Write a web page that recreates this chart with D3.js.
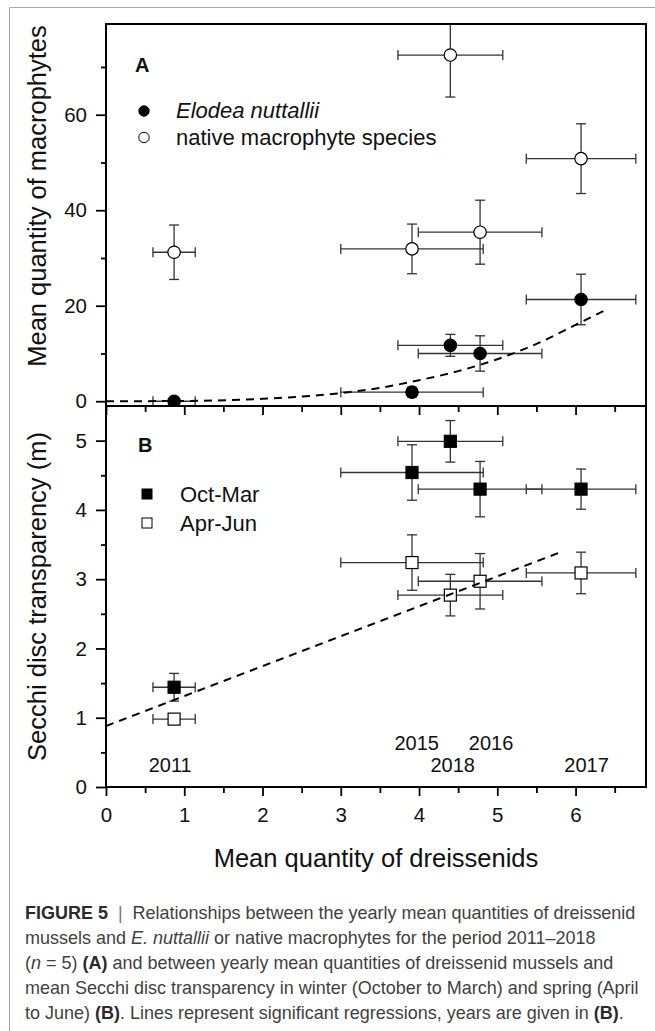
<!DOCTYPE html>
<html><head><meta charset="utf-8">
<script src="https://cdn.jsdelivr.net/npm/d3@7"></script>
<style>
html,body{margin:0;padding:0;background:#fff;}
svg{display:block;}
text{font-family:"Liberation Sans",Arial,sans-serif;}
</style></head>
<body>
<svg id="fig" width="655" height="1031"></svg>
<script>
// ---------------- data ----------------
const years = ["2011", "2015", "2016", "2017", "2018"];
const dreissenidMean = [0.87, 3.91, 4.78, 6.07, 4.40];
const dreissenidErr  = [0.27, 0.91, 0.79, 0.70, 0.67];

const elodeaMean = [0.0, 1.9, 10.0, 21.3, 11.7];
const elodeaErr  = [0.3, 1.0, 3.7, 5.3, 2.3];
const nativeMean = [31.2, 31.9, 35.4, 50.8, 72.5];
const nativeErr  = [5.7, 5.2, 6.7, 7.3, 8.8];

const secchiWinter    = [1.44, 4.54, 4.30, 4.30, 4.99];
const secchiWinterErr = [0.20, 0.40, 0.40, 0.29, 0.30];
const secchiSpring    = [0.98, 3.24, 2.97, 3.09, 2.77];
const secchiSpringErr = [0.05, 0.40, 0.40, 0.30, 0.30];

// regression lines, points
const elodeaFitX = [0, 1, 2, 3, 3.5, 4, 4.5, 5, 5.5, 6, 6.37];
const elodeaFitY = [0, 0.05, 0.5, 1.7, 2.8, 4.4, 6.3, 8.8, 12.0, 16.0, 19.0];
const secchiFitX = [0, 5.81];
const secchiFitY = [0.88, 3.39];

// year annotations (data coordinates of panel B)
const yearLabels = ["2011", "2015", "2016", "2018", "2017"];
const yearLabelX = [0.82, 3.97, 4.92, 4.43, 6.14];
const yearLabelY = [0.22, 0.54, 0.54, 0.21, 0.21];

// ticks
const xTicks = [0, 1, 2, 3, 4, 5, 6];
const xMinor = [0.5, 1.5, 2.5, 3.5, 4.5, 5.5, 6.5];
const yTicksA = [0, 20, 40, 60];
const yMinorA = [10, 30, 50, 70];
const yTicksB = [0, 1, 2, 3, 4, 5];
const yMinorB = [0.5, 1.5, 2.5, 3.5, 4.5];

const legendA = ["Elodea nuttallii", "native macrophyte species"];
const legendB = ["Oct-Mar", "Apr-Jun"];
const xTitle = "Mean quantity of dreissenids";
const yTitleA = "Mean quantity of macrophytes";
const yTitleB = "Secchi disc transparency (m)";

// ---------------- layout ----------------
const svg = d3.select("#fig");
const L = 106, R = 646, TA = 24, BA = 406, BB = 787;
const x  = d3.scaleLinear().domain([0, 6.9]).range([L, R]);
const yA = d3.scaleLinear().domain([-1, 79]).range([BA, TA]);
const yB = d3.scaleLinear().domain([0, 5.5]).range([BB, BA]);

svg.append("rect").attr("width", 655).attr("height", 1031).attr("fill", "#fff");
// outer figure border
svg.append("path").attr("d", "M9.5,1031V7.5H655").attr("fill", "none")
  .attr("stroke", "#a8a8a8").attr("stroke-width", 1);

const defs = svg.append("defs");
defs.append("clipPath").attr("id", "clipA").append("rect")
  .attr("x", L).attr("y", TA).attr("width", R - L).attr("height", BA - TA);
defs.append("clipPath").attr("id", "clipB").append("rect")
  .attr("x", L).attr("y", BA).attr("width", R - L).attr("height", BB - BA);

// ---------------- axes ----------------
function styleAxis(g, fs) {
  g.select(".domain").remove();
  g.selectAll(".tick line").attr("stroke", "#000").attr("stroke-width", 1.8);
  g.selectAll(".tick text").attr("fill", "#111").style("font-size", fs + "px")
    .style("font-family", '"Liberation Sans",Arial,sans-serif');
}
// panel A y axis
svg.append("g").attr("transform", `translate(${L},0)`)
  .call(d3.axisLeft(yA).tickValues(yTicksA).tickSize(10).tickPadding(9).tickFormat(d3.format("d")))
  .call(g => styleAxis(g, 20.5));
svg.append("g").attr("transform", `translate(${L},0)`)
  .call(d3.axisLeft(yA).tickValues(yMinorA).tickSize(5).tickFormat(""))
  .call(g => styleAxis(g, 20));
// panel B y axis
svg.append("g").attr("transform", `translate(${L},0)`)
  .call(d3.axisLeft(yB).tickValues(yTicksB).tickSize(10).tickPadding(9).tickFormat(d3.format("d")))
  .call(g => styleAxis(g, 20.5));
svg.append("g").attr("transform", `translate(${L},0)`)
  .call(d3.axisLeft(yB).tickValues(yMinorB).tickSize(5).tickFormat(""))
  .call(g => styleAxis(g, 20));
// x axis under panel A (no labels)
svg.append("g").attr("transform", `translate(0,${BA})`)
  .call(d3.axisBottom(x).tickValues(xTicks).tickSize(9).tickFormat(""))
  .call(g => styleAxis(g, 20));
svg.append("g").attr("transform", `translate(0,${BA})`)
  .call(d3.axisBottom(x).tickValues(xMinor).tickSize(6).tickFormat(""))
  .call(g => styleAxis(g, 20));
// x axis under panel B
svg.append("g").attr("transform", `translate(0,${BB})`)
  .call(d3.axisBottom(x).tickValues(xTicks).tickSize(9).tickPadding(11).tickFormat(d3.format("d")))
  .call(g => styleAxis(g, 20.5));
svg.append("g").attr("transform", `translate(0,${BB})`)
  .call(d3.axisBottom(x).tickValues(xMinor).tickSize(6).tickFormat(""))
  .call(g => styleAxis(g, 20));

// axis titles
svg.append("text").attr("x", (L + R) / 2).attr("y", 867).attr("text-anchor", "middle")
  .style("font-size", "25.5px").attr("fill", "#111").text(xTitle);
svg.append("text").attr("transform", "translate(46,196) rotate(-90)").attr("text-anchor", "middle")
  .style("font-size", "25.5px").attr("fill", "#111").text(yTitleA);
svg.append("text").attr("transform", `translate(46,${(BA + BB) / 2}) rotate(-90)`).attr("text-anchor", "middle")
  .style("font-size", "25.5px").attr("fill", "#111").text(yTitleB);

// ---------------- marks ----------------
const errColor = "#333";
function errorBars(g, xm, xe, ym, ye, y) {
  const idx = d3.range(xm.length);
  const cap = 5;
  g.selectAll(null).data(idx).join("line")
    .attr("x1", i => x(xm[i] - xe[i])).attr("x2", i => x(xm[i] + xe[i]))
    .attr("y1", i => y(ym[i])).attr("y2", i => y(ym[i]));
  g.selectAll(null).data(idx.flatMap(i => [[i, -1], [i, 1]])).join("line")
    .attr("x1", d => x(xm[d[0]] + d[1] * xe[d[0]])).attr("x2", d => x(xm[d[0]] + d[1] * xe[d[0]]))
    .attr("y1", d => y(ym[d[0]]) - cap).attr("y2", d => y(ym[d[0]]) + cap);
  g.selectAll(null).data(idx).join("line")
    .attr("x1", i => x(xm[i])).attr("x2", i => x(xm[i]))
    .attr("y1", i => y(ym[i] - ye[i])).attr("y2", i => y(ym[i] + ye[i]));
  g.selectAll(null).data(idx.flatMap(i => [[i, -1], [i, 1]])).join("line")
    .attr("x1", d => x(xm[d[0]]) - cap).attr("x2", d => x(xm[d[0]]) + cap)
    .attr("y1", d => y(ym[d[0]] + d[1] * ye[d[0]])).attr("y2", d => y(ym[d[0]] + d[1] * ye[d[0]]));
  g.attr("stroke", errColor).attr("stroke-width", 1.3);
}

// Panel A
const gA = svg.append("g").attr("clip-path", "url(#clipA)");
errorBars(gA.append("g"), dreissenidMean, dreissenidErr, nativeMean, nativeErr, yA);
errorBars(gA.append("g"), dreissenidMean, dreissenidErr, elodeaMean, elodeaErr, yA);
gA.append("g").selectAll("circle").data(d3.range(years.length)).join("circle")
  .attr("cx", i => x(dreissenidMean[i])).attr("cy", i => yA(nativeMean[i])).attr("r", 6.2)
  .attr("fill", "#fff").attr("stroke", "#000").attr("stroke-width", 1.2);
gA.append("g").selectAll("circle").data(d3.range(years.length)).join("circle")
  .attr("cx", i => x(dreissenidMean[i])).attr("cy", i => yA(elodeaMean[i])).attr("r", 6.2)
  .attr("fill", "#000").attr("stroke", "#000").attr("stroke-width", 1.2);
gA.append("path")
  .attr("d", d3.line().x(i => x(elodeaFitX[i])).y(i => yA(elodeaFitY[i])).curve(d3.curveMonotoneX)(d3.range(elodeaFitX.length)))
  .attr("fill", "none").attr("stroke", "#000").attr("stroke-width", 2).attr("stroke-dasharray", "8,6");

// Panel B
const gB = svg.append("g").attr("clip-path", "url(#clipB)");
errorBars(gB.append("g"), dreissenidMean, dreissenidErr, secchiWinter, secchiWinterErr, yB);
errorBars(gB.append("g"), dreissenidMean, dreissenidErr, secchiSpring, secchiSpringErr, yB);
const sq = 12;
gB.append("g").selectAll("rect").data(d3.range(years.length)).join("rect")
  .attr("x", i => x(dreissenidMean[i]) - sq / 2).attr("y", i => yB(secchiSpring[i]) - sq / 2)
  .attr("width", sq).attr("height", sq)
  .attr("fill", "#fff").attr("stroke", "#000").attr("stroke-width", 1.2);
gB.append("g").selectAll("rect").data(d3.range(years.length)).join("rect")
  .attr("x", i => x(dreissenidMean[i]) - sq / 2).attr("y", i => yB(secchiWinter[i]) - sq / 2)
  .attr("width", sq).attr("height", sq)
  .attr("fill", "#000").attr("stroke", "#000").attr("stroke-width", 1.2);
gB.append("path")
  .attr("d", d3.line().x(i => x(secchiFitX[i])).y(i => yB(secchiFitY[i]))(d3.range(secchiFitX.length)))
  .attr("fill", "none").attr("stroke", "#000").attr("stroke-width", 2).attr("stroke-dasharray", "8,6");

// year labels
svg.append("g").selectAll("text").data(d3.range(yearLabels.length)).join("text")
  .attr("x", i => x(yearLabelX[i])).attr("y", i => yB(yearLabelY[i]))
  .attr("text-anchor", "middle").style("font-size", "20px").attr("fill", "#111")
  .text(i => yearLabels[i]);

// frames
svg.append("rect").attr("x", L).attr("y", TA).attr("width", R - L).attr("height", BA - TA)
  .attr("fill", "none").attr("stroke", "#000").attr("stroke-width", 2);
svg.append("rect").attr("x", L).attr("y", BA).attr("width", R - L).attr("height", BB - BA)
  .attr("fill", "none").attr("stroke", "#000").attr("stroke-width", 2);

// ---------------- legends ----------------
svg.append("text").attr("x", 135).attr("y", 72).style("font-size", "20px").style("font-weight", "bold")
  .attr("fill", "#111").text("A");
svg.append("circle").attr("cx", 144).attr("cy", 111).attr("r", 5.2).attr("fill", "#000").attr("stroke", "#000");
svg.append("circle").attr("cx", 144).attr("cy", 137.5).attr("r", 5.2).attr("fill", "#fff").attr("stroke", "#000");
svg.append("text").attr("x", 176).attr("y", 117.5).style("font-size", "22px").style("font-style", "italic")
  .attr("fill", "#111").text(legendA[0]);
svg.append("text").attr("x", 176).attr("y", 144.5).style("font-size", "22px")
  .attr("fill", "#111").text(legendA[1]);

svg.append("text").attr("x", 138).attr("y", 452).style("font-size", "20px").style("font-weight", "bold")
  .attr("fill", "#111").text("B");
svg.append("rect").attr("x", 142).attr("y", 489).attr("width", 10).attr("height", 10).attr("fill", "#000").attr("stroke", "#000");
svg.append("rect").attr("x", 142).attr("y", 518).attr("width", 10).attr("height", 10).attr("fill", "#fff").attr("stroke", "#000");
svg.append("text").attr("x", 180).attr("y", 502).style("font-size", "22px").attr("fill", "#111").text(legendB[0]);
svg.append("text").attr("x", 180).attr("y", 530.5).style("font-size", "22px").attr("fill", "#111").text(legendB[1]);

// ---------------- caption ----------------
const captionLines = [
  [["FIGURE 5", "b"], ["  |  ", "sep"], ["Relationships between the yearly mean quantities of dreissenid", ""]],
  [["mussels and ", ""], ["E. nuttallii", "i"], [" or native macrophytes for the period 2011–2018", ""]],
  [["(", ""], ["n", "i"], [" = 5) ", ""], ["(A)", "b"], [" and between yearly mean quantities of dreissenid mussels and", ""]],
  [["mean Secchi disc transparency in winter (October to March) and spring (April", ""]],
  [["to June) ", ""], ["(B)", "b"], [". Lines represent significant regressions, years are given in ", ""], ["(B)", "b"], [".", ""]]
];
const cap = svg.append("g");
const capTexts = captionLines.map((segs, li) => {
  const t = cap.append("text").attr("x", 0).attr("y", 919 + li * 25)
    .style("font-family", '"Liberation Sans Narrow","Arial Narrow","Liberation Sans",sans-serif')
    .style("font-size", "18px").style("white-space", "pre").attr("fill", "#3f3f3f");
  segs.forEach(([s, k]) => {
    const ts = t.append("tspan").text(s);
    if (k === "b") ts.style("font-weight", "bold").attr("fill", "#2a2a2a");
    if (k === "i") ts.style("font-style", "italic");
    if (k === "sep") ts.attr("fill", "#777");
  });
  return t;
});
const w4 = capTexts[3].node().getComputedTextLength();
const s = 614 / w4;
cap.attr("transform", `translate(25,0) scale(${s},1)`);
</script>
</body></html>
